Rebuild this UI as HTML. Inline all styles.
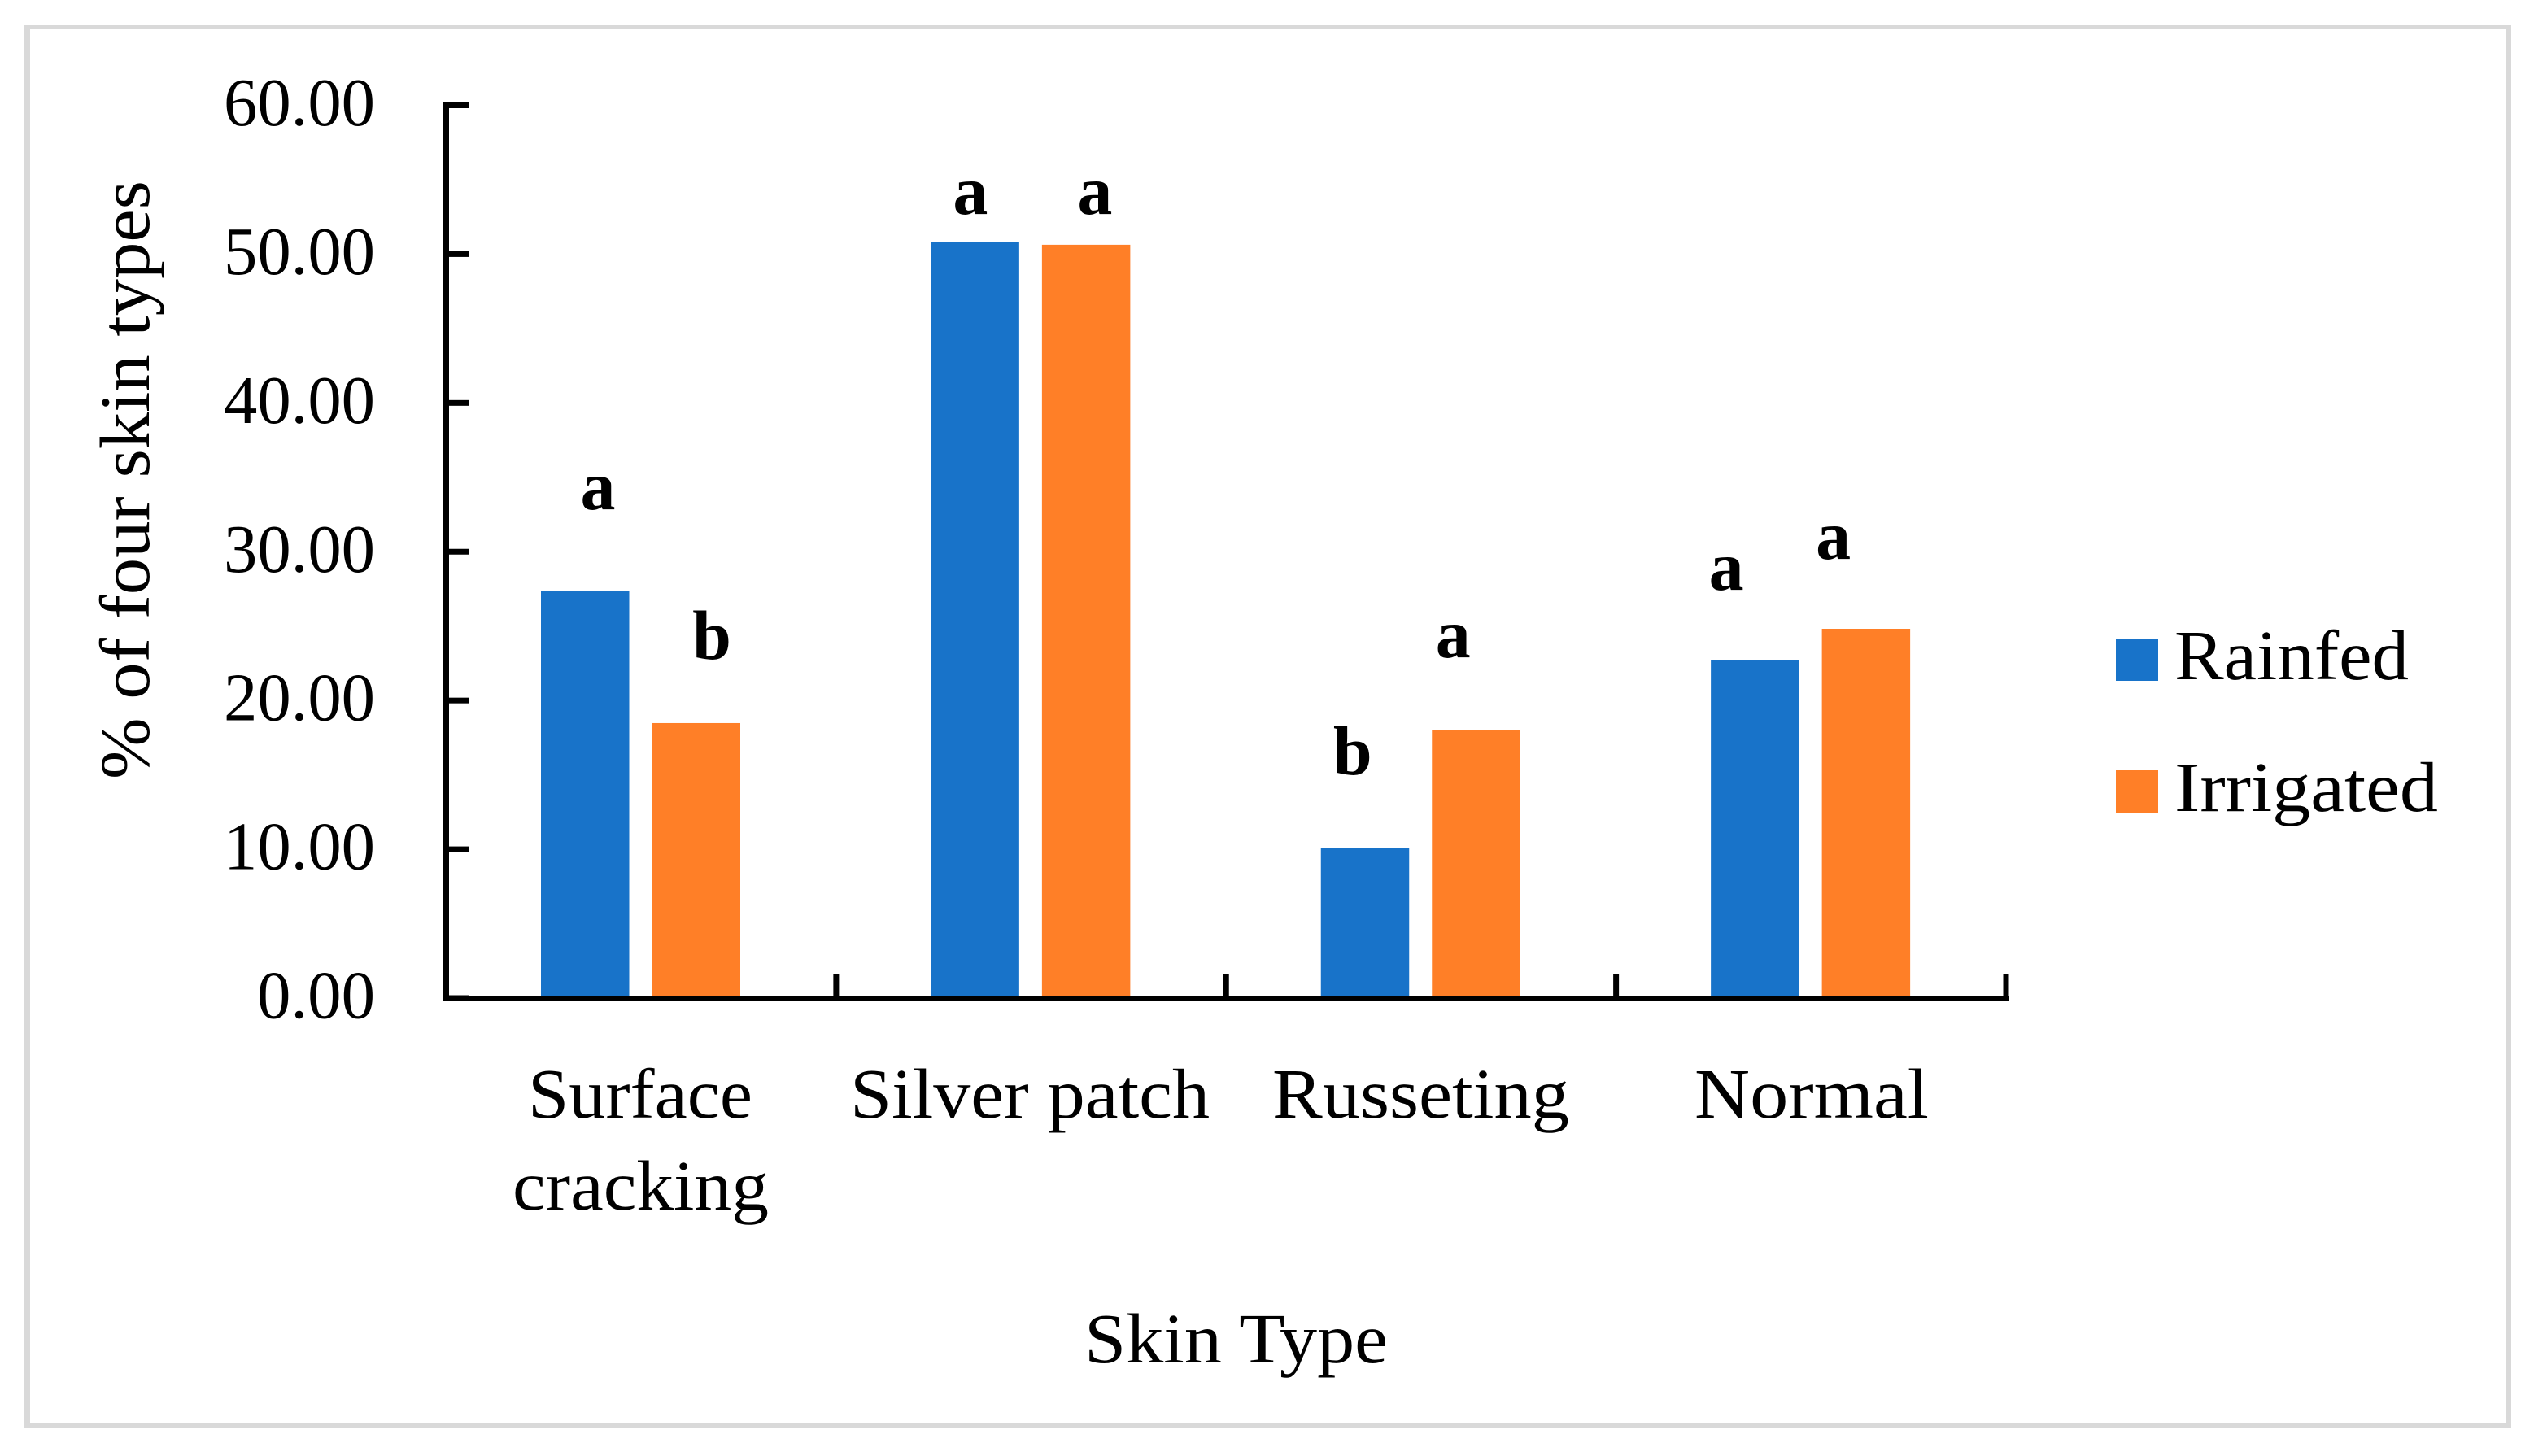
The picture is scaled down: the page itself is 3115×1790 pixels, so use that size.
<!DOCTYPE html>
<html lang="en">
<head>
<meta charset="utf-8">
<title>Percentage of four skin types under rainfed and irrigated conditions</title>
<style>
  html, body { margin: 0; padding: 0; background: #ffffff; }
  body { width: 3115px; height: 1790px; overflow: hidden; }
  svg { display: block; }
  text { font-family: "Liberation Serif", "DejaVu Serif", serif; fill: #000000; }
  .label { font-size: 87px; }
  .tick { font-size: 84px; }
  .letter { font-size: 86px; font-weight: bold; text-anchor: middle; }
</style>
</head>
<body>
<svg id="chart" xmlns="http://www.w3.org/2000/svg" width="3115" height="1790" viewBox="0 0 3115 1790">
  <g fill="#d9d9d9">
    <rect x="30" y="31" width="3057" height="5"></rect>
    <rect x="30" y="1749" width="3057" height="7"></rect>
    <rect x="30" y="31" width="7" height="1725"></rect>
    <rect x="3080" y="31" width="7" height="1725"></rect>
  </g>
  <g id="bars"></g>
  <g id="axes"></g>
  <g id="letters"></g>
  <text class="label" transform="translate(183,958) rotate(-90)" textLength="736" lengthAdjust="spacingAndGlyphs">% of four skin types</text>
  <text class="label" x="1333" y="1675" textLength="373" lengthAdjust="spacingAndGlyphs">Skin Type</text>
  <g>
    <g>
      <rect x="2601" y="786" width="52" height="51" fill="#1873c9"></rect>
      <text class="label" x="2673" y="835" textLength="288" lengthAdjust="spacingAndGlyphs">Rainfed</text>
    </g>
    <g>
      <rect x="2601" y="947" width="52" height="52" fill="#ff7f27"></rect>
      <text class="label" x="2673" y="997" textLength="324" lengthAdjust="spacingAndGlyphs">Irrigated</text>
    </g>
  </g>
</svg>
<script>
const categories = ['Surface cracking', 'Silver patch', 'Russeting', 'Normal'];
const rainfedValues = [27.39, 50.79, 10.11, 22.74];
const irrigatedValues = [18.48, 50.63, 17.99, 24.82];
const rainfedLetters = ['a', 'a', 'b', 'a'];
const irrigatedLetters = ['b', 'a', 'a', 'a'];
const yTickValues = [0, 10, 20, 30, 40, 50, 60];

const SVG_NS = 'http://www.w3.org/2000/svg';
const BLUE = '#1873c9';
const ORANGE = '#ff7f27';
const BLACK = '#000000';

function yScale(value) {
  return 1227 - value * (1097.5 / 60);
}
function categoryEdge(index) {
  return 548.5 + index * (1917.5 / categories.length);
}
function barLeft(catIndex, seriesIndex) {
  return categoryEdge(catIndex) + 116.5 + seriesIndex * 136.5;
}

function makeRect(parent, x, y, w, h, fill) {
  const r = document.createElementNS(SVG_NS, 'rect');
  r.setAttribute('x', x);
  r.setAttribute('y', y);
  r.setAttribute('width', w);
  r.setAttribute('height', h);
  r.setAttribute('fill', fill);
  parent.appendChild(r);
  return r;
}
function makeText(parent, x, y, str, cls, len) {
  const t = document.createElementNS(SVG_NS, 'text');
  t.setAttribute('x', x);
  t.setAttribute('y', y);
  t.setAttribute('class', cls);
  if (len) {
    t.setAttribute('textLength', len);
    t.setAttribute('lengthAdjust', 'spacingAndGlyphs');
  }
  t.textContent = str;
  parent.appendChild(t);
  return t;
}
function slug(s) {
  return s.toLowerCase().replace(/\s+/g, '-');
}

const barsLayer = document.getElementById('bars');
const axesLayer = document.getElementById('axes');
const lettersLayer = document.getElementById('letters');

function drawBars(values, seriesIndex, seriesName, fill) {
  values.forEach(function (v, i) {
    const top = yScale(v);
    const bar = makeRect(barsLayer, barLeft(i, seriesIndex), top, 108.5, yScale(0) - top, fill);
    
    
  });
}
drawBars(rainfedValues, 0, 'rainfed', BLUE);
drawBars(irrigatedValues, 1, 'irrigated', ORANGE);

const yAxisLine = makeRect(axesLayer, 545, yScale(60) - 3.5, 7, yScale(0) - yScale(60) + 7.5, BLACK);



const xAxisLine = makeRect(axesLayer, 545, 1224, 1925, 7, BLACK);



yTickValues.forEach(function (v) {
  const yy = yScale(v);
  const tick = makeRect(axesLayer, 552, yy - 3.5, 25, 7, BLACK);
  
  
  const str = v.toFixed(2);
  const len = str.length === 5 ? 186 : 145;
  const label = makeText(axesLayer, 461 - len, yy + 24.5, str, 'tick', len);
  
  
});

for (let i = 1; i <= categories.length; i++) {
  const tick = makeRect(axesLayer, categoryEdge(i) - 3.5, 1198, 7, 30, BLACK);
  
  
}

function drawCategoryLabel(str, x, y, len) {
  const label = makeText(axesLayer, x, y, str, 'label', len);
  
  
}
const surfaceWords = categories[0].split(' ');
drawCategoryLabel(surfaceWords[0], 649, 1374, 276);
drawCategoryLabel(surfaceWords[1], 630, 1487, 315);
drawCategoryLabel(categories[1], 1045, 1374, 442);
drawCategoryLabel(categories[2], 1564, 1374, 365);
drawCategoryLabel(categories[3], 2083, 1374, 288);

function drawLetter(letters, values, seriesIndex, seriesName, catIndex, dx, gap) {
  const center = barLeft(catIndex, seriesIndex) + 54;
  const t = makeText(lettersLayer, center + dx, yScale(values[catIndex]) - gap, letters[catIndex], 'letter');
  
  
}
drawLetter(rainfedLetters, rainfedValues, 0, 'rainfed', 0, 16, 100);
drawLetter(irrigatedLetters, irrigatedValues, 1, 'irrigated', 0, 19.5, 79);
drawLetter(rainfedLetters, rainfedValues, 0, 'rainfed', 1, -5.5, 35);
drawLetter(irrigatedLetters, irrigatedValues, 1, 'irrigated', 1, 11, 38);
drawLetter(rainfedLetters, rainfedValues, 0, 'rainfed', 2, -15, 90);
drawLetter(irrigatedLetters, irrigatedValues, 1, 'irrigated', 2, -28, 90);
drawLetter(rainfedLetters, rainfedValues, 0, 'rainfed', 3, -35, 86);
drawLetter(irrigatedLetters, irrigatedValues, 1, 'irrigated', 3, -40, 86);
</script>
</body>
</html>
